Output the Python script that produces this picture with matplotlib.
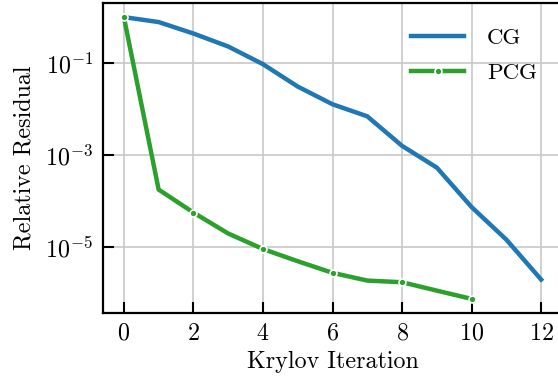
import numpy as np
import matplotlib
matplotlib.use("Agg")
from matplotlib import pyplot as plt
from matplotlib.ticker import NullLocator, FixedLocator

plt.rcParams['font.family'] = 'serif'
plt.rcParams['font.serif'] = ['cmr10']
plt.rcParams['mathtext.fontset'] = 'cm'
plt.rcParams['axes.formatter.use_mathtext'] = True
plt.rcParams['axes.unicode_minus'] = False

# data
cg_iter = [0, 1, 2, 3, 4, 5, 6, 7, 8, 9, 10, 11, 12]
cg_res = [1.0, 0.78, 0.44, 0.23, 0.095, 0.031, 0.0128, 0.0070, 0.0016,
          5.4e-4, 7.5e-5, 1.47e-5, 2.0e-6]
pcg_iter = [0, 1, 2, 3, 4, 5, 6, 7, 8, 9, 10]
pcg_res = [1.0, 1.8e-4, 5.7e-5, 2.0e-5, 9.2e-6, 5.0e-6, 2.8e-6, 1.9e-6,
           1.75e-6, 1.15e-6, 7.6e-7]
xticks = [0, 2, 4, 6, 8, 10, 12]
yticks = [1e-1, 1e-3, 1e-5]

fs = 17.3

fig = plt.figure(figsize=(5.58, 3.82), dpi=100)
ax = fig.add_axes([103 / 558, 69 / 382, 459 / 558, 310 / 382])

ax.plot(cg_iter, cg_res, color='#1f77b4', lw=3.2, label='CG')
ax.plot(pcg_iter, pcg_res, color='#2ca02c', lw=3.2, marker='o', ms=5,
        mec='white', mew=1.2, markevery=2, label='PCG')

ax.set_yscale('log')
ax.set_xticks(xticks)
ax.yaxis.set_major_locator(FixedLocator(yticks))
ax.yaxis.set_minor_locator(NullLocator())
ax.grid(True, color='#c8c8c8', lw=1.2)
ax.set_axisbelow(True)

ax.tick_params(direction='in', length=8, width=1.5, labelsize=fs, pad=7)
for s in ax.spines.values():
    s.set_linewidth(1.6)

ax.set_xlabel('Krylov Iteration', fontsize=fs, labelpad=4)
ax.set_ylabel('Relative Residual', fontsize=fs, labelpad=7)

ax.legend(loc='upper right', frameon=False, fontsize=16.5, numpoints=1,
          handlelength=2.3, labelspacing=0.62, handletextpad=1.0,
          bbox_to_anchor=(0.99, 0.985))

fig.savefig('out.png', dpi=100)
